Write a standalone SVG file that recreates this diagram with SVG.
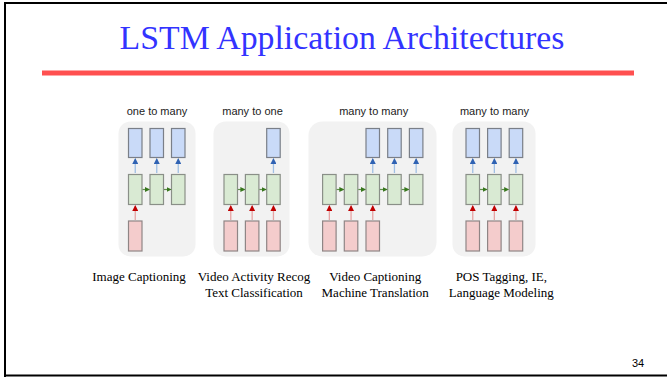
<svg xmlns="http://www.w3.org/2000/svg" width="667" height="378" viewBox="0 0 667 378">
<defs>
<style>
.panel{fill:#f2f2f2;stroke:none}
.b{fill:#c9daf8;stroke:#7a7f88;stroke-width:1.2}
.g{fill:#d9ead3;stroke:#8a8f88;stroke-width:1.2}
.r{fill:#f4cccc;stroke:#8f8585;stroke-width:1.2}
.hd{font-family:"Liberation Sans",Arial,sans-serif;font-size:11px;fill:#222;text-anchor:middle}
.cap{font-family:"Liberation Serif","Times New Roman",serif;font-size:13px;fill:#000;text-anchor:middle}
.ab{stroke:#9fbfe3;stroke-width:1.3;fill:none;marker-end:url(#mb)}
.ar{stroke:#e6a3a3;stroke-width:1.3;fill:none;marker-end:url(#mr)}
.ag{stroke:#5f8f4a;stroke-width:1.2;fill:none;marker-end:url(#mg)}
</style>
<marker id="mb" markerUnits="userSpaceOnUse" markerWidth="6" markerHeight="6" refX="5" refY="3" orient="auto"><path d="M0,0 L6,3 L0,6 Z" fill="#2f62b3"/></marker>
<marker id="mr" markerUnits="userSpaceOnUse" markerWidth="6" markerHeight="6" refX="5" refY="3" orient="auto"><path d="M0,0 L6,3 L0,6 Z" fill="#c00000"/></marker>
<marker id="mg" markerUnits="userSpaceOnUse" markerWidth="5" markerHeight="5" refX="4" refY="2.5" orient="auto"><path d="M0,0 L5,2.5 L0,5 Z" fill="#38761d"/></marker>
</defs>
<rect x="0" y="0" width="667" height="378" fill="#fff"/>
<path d="M5,377 V3 H667 M5,375.5 H667" stroke="#000" stroke-width="2" fill="none"/>
<text x="342" y="48.5" font-family="'Liberation Serif','Times New Roman',serif" font-size="33.8" fill="#3333ff" text-anchor="middle">LSTM Application Architectures</text>
<rect x="42" y="70.5" width="592" height="5" fill="#ff5050"/>

<text class="hd" x="157" y="115">one to many</text>
<text class="hd" x="252.5" y="115">many to one</text>
<text class="hd" x="373.7" y="115">many to many</text>
<text class="hd" x="494.5" y="115">many to many</text>

<g id="panel1"><rect class="panel" x="118.5" y="121.5" width="77" height="135" rx="12"/>
<g id="p1-out1"><rect class="b" x="128.5" y="128.5" width="13.5" height="29"/></g>
<g id="p1-out2"><rect class="b" x="150" y="128.5" width="13.5" height="29"/></g>
<g id="p1-out3"><rect class="b" x="171.5" y="128.5" width="13.5" height="29"/></g>
<g id="p1-h1"><rect class="g" x="128.5" y="174.5" width="13.5" height="30"/></g>
<g id="p1-h2"><rect class="g" x="150" y="174.5" width="13.5" height="30"/></g>
<g id="p1-h3"><rect class="g" x="171.5" y="174.5" width="13.5" height="30"/></g>
<g id="p1-in1"><rect class="r" x="128.5" y="221" width="13.5" height="30"/></g>
</g>

<g id="panel2"><rect class="panel" x="213.5" y="121.5" width="76" height="135" rx="12"/>
<g id="p2-out3"><rect class="b" x="266.7" y="128.5" width="13.5" height="29"/></g>
<g id="p2-h1"><rect class="g" x="224" y="174.5" width="13.5" height="30"/></g>
<g id="p2-h2"><rect class="g" x="245.4" y="174.5" width="13.5" height="30"/></g>
<g id="p2-h3"><rect class="g" x="266.7" y="174.5" width="13.5" height="30"/></g>
<g id="p2-in1"><rect class="r" x="224" y="221" width="13.5" height="30"/></g>
<g id="p2-in2"><rect class="r" x="245.4" y="221" width="13.5" height="30"/></g>
<g id="p2-in3"><rect class="r" x="266.7" y="221" width="13.5" height="30"/></g>
</g>

<g id="panel3"><rect class="panel" x="308.5" y="121.5" width="128" height="135" rx="14"/>
<g id="p3-out3"><rect class="b" x="366" y="128.5" width="13.5" height="29"/></g>
<g id="p3-out4"><rect class="b" x="387.7" y="128.5" width="13.5" height="29"/></g>
<g id="p3-out5"><rect class="b" x="409.4" y="128.5" width="13.5" height="29"/></g>
<g id="p3-h1"><rect class="g" x="322.6" y="174.5" width="13.5" height="30"/></g>
<g id="p3-h2"><rect class="g" x="344.3" y="174.5" width="13.5" height="30"/></g>
<g id="p3-h3"><rect class="g" x="366" y="174.5" width="13.5" height="30"/></g>
<g id="p3-h4"><rect class="g" x="387.7" y="174.5" width="13.5" height="30"/></g>
<g id="p3-h5"><rect class="g" x="409.4" y="174.5" width="13.5" height="30"/></g>
<g id="p3-in1"><rect class="r" x="322.6" y="221" width="13.5" height="30"/></g>
<g id="p3-in2"><rect class="r" x="344.3" y="221" width="13.5" height="30"/></g>
<g id="p3-in3"><rect class="r" x="366" y="221" width="13.5" height="30"/></g>
</g>

<g id="panel4"><rect class="panel" x="452.5" y="121.5" width="83" height="135" rx="12"/>
<g id="p4-out1"><rect class="b" x="466" y="128.5" width="13.5" height="29"/></g>
<g id="p4-out2"><rect class="b" x="487.6" y="128.5" width="13.5" height="29"/></g>
<g id="p4-out3"><rect class="b" x="509.2" y="128.5" width="13.5" height="29"/></g>
<g id="p4-h1"><rect class="g" x="466" y="174.5" width="13.5" height="30"/></g>
<g id="p4-h2"><rect class="g" x="487.6" y="174.5" width="13.5" height="30"/></g>
<g id="p4-h3"><rect class="g" x="509.2" y="174.5" width="13.5" height="30"/></g>
<g id="p4-in1"><rect class="r" x="466" y="221" width="13.5" height="30"/></g>
<g id="p4-in2"><rect class="r" x="487.6" y="221" width="13.5" height="30"/></g>
<g id="p4-in3"><rect class="r" x="509.2" y="221" width="13.5" height="30"/></g>
</g>

<g id="connectors">
<path class="ab" d="M135.25,173 V159"/><path class="ab" d="M156.75,173 V159"/><path class="ab" d="M178.25,173 V159"/>
<path class="ar" d="M135.25,220 V206"/>
<path class="ag" d="M142.5,189.5 H149"/><path class="ag" d="M164,189.5 H170.5"/>

<path class="ab" d="M273.45,173 V159"/>
<path class="ar" d="M230.75,220 V206"/><path class="ar" d="M252.15,220 V206"/><path class="ar" d="M273.45,220 V206"/>
<path class="ag" d="M238,189.5 H244.4"/><path class="ag" d="M259.4,189.5 H265.7"/>

<path class="ab" d="M372.75,173 V159"/><path class="ab" d="M394.45,173 V159"/><path class="ab" d="M416.15,173 V159"/>
<path class="ar" d="M329.35,220 V206"/><path class="ar" d="M351.05,220 V206"/><path class="ar" d="M372.75,220 V206"/>
<path class="ag" d="M336.6,189.5 H343.3"/><path class="ag" d="M358.3,189.5 H365"/><path class="ag" d="M380,189.5 H386.7"/><path class="ag" d="M401.7,189.5 H408.4"/>

<path class="ab" d="M472.75,173 V159"/><path class="ab" d="M494.35,173 V159"/><path class="ab" d="M515.95,173 V159"/>
<path class="ar" d="M472.75,220 V206"/><path class="ar" d="M494.35,220 V206"/><path class="ar" d="M515.95,220 V206"/>
<path class="ag" d="M480,189.5 H486.6"/><path class="ag" d="M501.6,189.5 H508.2"/>
</g>

<text class="cap" x="139" y="281">Image Captioning</text>
<text class="cap" x="254" y="281">Video Activity Recog</text>
<text class="cap" x="254" y="297">Text Classification</text>
<text class="cap" x="375.2" y="281">Video Captioning</text>
<text class="cap" x="375.2" y="297">Machine Translation</text>
<text class="cap" x="501.3" y="281">POS Tagging, IE,</text>
<text class="cap" x="501.3" y="297">Language Modeling</text>

<text x="638" y="367" font-family="'Liberation Sans',Arial,sans-serif" font-size="11" fill="#000" text-anchor="middle">34</text>
</svg>
